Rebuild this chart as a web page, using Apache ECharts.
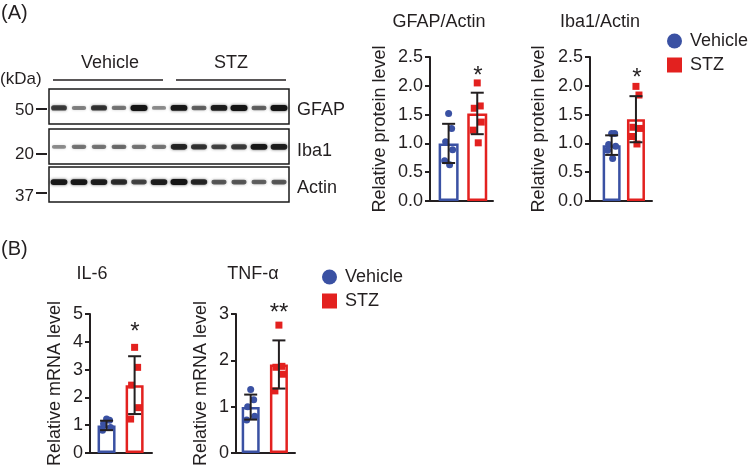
<!DOCTYPE html>
<html>
<head>
<meta charset="UTF-8">
<title>GFAP / Iba1 / IL-6 / TNF-α</title>
<script src="https://cdn.jsdelivr.net/npm/echarts@6/dist/echarts.min.js"></script>
<style>
  html, body { margin: 0; padding: 0; background: #fff; }
  #main { width: 749px; height: 468px; }
</style>
</head>
<body>
<div id="main"></div>
<script>
// blot lanes: 6 vehicle + 6 STZ, band darkness 0..1
var laneNames = ['V1', 'V2', 'V3', 'V4', 'V5', 'V6', 'S1', 'S2', 'S3', 'S4', 'S5', 'S6'];
var gfapBands = [0.7, 0.35, 0.75, 0.4, 1.0, 0.3, 0.95, 0.5, 0.9, 1.0, 0.5, 1.0];
var iba1Bands = [0.3, 0.4, 0.4, 0.45, 0.4, 0.4, 0.85, 0.75, 0.65, 0.7, 0.95, 0.9];
var actinBands = [0.95, 0.95, 0.9, 0.8, 0.65, 0.9, 1.0, 0.85, 0.55, 0.55, 0.5, 0.55];

// GFAP/Actin
var gfapVehicle = [1.52, 1.26, 1.03, 0.89, 0.70, 0.63];
var gfapStz = [2.05, 1.65, 1.61, 1.37, 1.23, 1.01];
var gfapMean = [1.00, 1.52];
var gfapSd = [0.34, 0.36];

// Iba1/Actin
var iba1Vehicle = [1.17, 1.17, 0.98, 0.95, 0.88, 0.74];
var iba1Stz = [1.99, 1.84, 1.28, 1.26, 1.12, 0.99];
var iba1Mean = [0.97, 1.42];
var iba1Sd = [0.17, 0.40];

// IL-6
var il6Vehicle = [1.22, 1.18, 1.05, 0.92, 0.82];
var il6Stz = [3.80, 3.08, 2.44, 1.63, 1.22];
var il6Mean = [0.99, 2.44];
var il6Sd = [0.17, 1.04];

// TNF-α
var tnfVehicle = [1.37, 1.15, 1.00, 0.79, 0.71];
var tnfStz = [2.76, 1.87, 1.85, 1.70, 1.34];
var tnfMean = [0.99, 1.91];
var tnfSd = [0.27, 0.52];

var FONT = '"Liberation Sans", Arial, Helvetica, sans-serif';
var INK = '#231f20';
var BLUE = '#3a51a3';
var RED = '#e3211f';
var jitter = [0, 3, -3, 4, -4, 1];

var grids = [], xAxes = [], yAxes = [], series = [];

function addBlot(bands, top, rowY) {
  var i = grids.length;
  grids.push({ left: 49, top: top, width: 240, height: 35, show: true,
    borderColor: '#1a1a1a', borderWidth: 1.5, backgroundColor: '#fff' });
  xAxes.push({ gridIndex: i, type: 'category', data: laneNames, show: false });
  yAxes.push({ gridIndex: i, type: 'value', min: 0, max: 1, show: false });
  series.push({
    type: 'custom', xAxisIndex: i, yAxisIndex: i, silent: true,
    data: bands.map(function (v, k) { return [k, v]; }),
    renderItem: function (params, api) {
      var p = api.coord([api.value(0), rowY]);
      var v = api.value(1);
      var w = 13 + 4 * v, h = 3 + 3 * v;
      return {
        type: 'rect',
        shape: { x: p[0] - w / 2, y: p[1] - h / 2, width: w, height: h, r: h / 2 },
        style: { fill: 'rgba(20,20,20,' + (0.2 + 0.8 * v) + ')',
          shadowBlur: 3, shadowColor: 'rgba(20,20,20,' + (0.15 + 0.6 * v) + ')' }
      };
    }
  });
}

function addBars(o) {
  var i = grids.length;
  grids.push({ left: o.left, top: o.top, width: o.width, height: o.height });
  xAxes.push({ gridIndex: i, type: 'value', min: o.xMin, max: o.xMax,
    axisLine: { onZero: false, lineStyle: { color: INK, width: 2 } },
    axisTick: { show: false }, axisLabel: { show: false }, splitLine: { show: false } });
  yAxes.push({ gridIndex: i, type: 'value', min: 0, max: o.max, interval: o.interval,
    name: o.name, nameLocation: 'middle', nameGap: o.nameGap, nameRotate: 90,
    nameTextStyle: { fontSize: 18, color: INK, fontFamily: FONT },
    axisLine: { show: true, onZero: false, lineStyle: { color: INK, width: 2 } },
    axisTick: { show: true, length: 5, lineStyle: { color: INK, width: 2 } },
    axisLabel: { fontSize: 18, color: INK, fontFamily: FONT, margin: 7,
      formatter: function (v) { return v.toFixed(o.dec); } },
    splitLine: { show: false } });
  series.push({
    type: 'bar', xAxisIndex: i, yAxisIndex: i, barWidth: o.barW, silent: true,
    itemStyle: { color: '#fff', borderWidth: 2.5 },
    data: [
      { value: [0, o.mean[0]], itemStyle: { borderColor: BLUE } },
      { value: [1, o.mean[1]], itemStyle: { borderColor: RED } }
    ]
  });
  series.push({
    type: 'scatter', name: 'Vehicle', xAxisIndex: i, yAxisIndex: i, symbol: 'circle', symbolSize: 7,
    itemStyle: { color: BLUE, opacity: 1 }, z: 3,
    data: o.veh.map(function (v, k) { return { value: [0, v], symbolOffset: [jitter[k], 0] }; })
  });
  series.push({
    type: 'scatter', name: 'STZ', xAxisIndex: i, yAxisIndex: i, symbol: 'rect', symbolSize: 7,
    itemStyle: { color: RED, opacity: 1 }, z: 3,
    data: o.stz.map(function (v, k) { return { value: [1, v], symbolOffset: [jitter[k], 0] }; })
  });
  series.push({
    type: 'custom', xAxisIndex: i, yAxisIndex: i, z: 5, silent: true,
    data: [[0, o.mean[0], o.sd[0]], [1, o.mean[1], o.sd[1]]],
    renderItem: function (params, api) {
      var x = api.value(0), m = api.value(1), s = api.value(2);
      var hi = api.coord([x, m + s]), lo = api.coord([x, m - s]);
      var c = 6.5, st = { stroke: INK, lineWidth: 2 };
      return { type: 'group', children: [
        { type: 'line', shape: { x1: hi[0], y1: hi[1], x2: lo[0], y2: lo[1] }, style: st },
        { type: 'line', shape: { x1: hi[0] - c, y1: hi[1], x2: hi[0] + c, y2: hi[1] }, style: st },
        { type: 'line', shape: { x1: lo[0] - c, y1: lo[1], x2: lo[0] + c, y2: lo[1] }, style: st }
      ] };
    }
  });
}

addBlot(gfapBands, 89, 0.46);
addBlot(iba1Bands, 129, 0.49);
addBlot(actinBands, 167, 0.57);

addBars({ left: 430, top: 57, width: 63, height: 144, xMin: -0.65, xMax: 1.55, barW: 20,
  max: 2.5, interval: 0.5, dec: 1, name: 'Relative protein level', nameGap: 41,
  veh: gfapVehicle, stz: gfapStz, mean: gfapMean, sd: gfapSd });
addBars({ left: 590, top: 57, width: 62, height: 144, xMin: -0.89, xMax: 1.66, barW: 18,
  max: 2.5, interval: 0.5, dec: 1, name: 'Relative protein level', nameGap: 42,
  veh: iba1Vehicle, stz: iba1Stz, mean: iba1Mean, sd: iba1Sd });
addBars({ left: 90, top: 314, width: 62, height: 145, xMin: -0.59, xMax: 1.62, barW: 18,
  max: 5, interval: 1, dec: 0, name: 'Relative mRNA level', nameGap: 26,
  veh: il6Vehicle, stz: il6Stz, mean: il6Mean, sd: il6Sd });
addBars({ left: 236, top: 314, width: 59, height: 144, xMin: -0.52, xMax: 1.57, barW: 18,
  max: 3, interval: 1, dec: 0, name: 'Relative mRNA level', nameGap: 26,
  veh: tnfVehicle, stz: tnfStz, mean: tnfMean, sd: tnfSd });

function txt(x, y, s, size, align) {
  return { type: 'text', x: x, y: y, silent: true,
    style: { text: s, fill: INK, font: size + 'px ' + FONT, align: align || 'left', verticalAlign: 'middle' } };
}
function hline(x1, x2, y, w) {
  return { type: 'line', silent: true, shape: { x1: x1, y1: y, x2: x2, y2: y },
    style: { stroke: INK, lineWidth: w || 1.5 } };
}

var graphics = [
  txt(1, 13, '(A)', 20),
  txt(1, 249, '(B)', 20),
  txt(110, 63, 'Vehicle', 18, 'center'),
  txt(231, 63, 'STZ', 18, 'center'),
  hline(53, 163, 80), hline(176, 286, 80),
  txt(0, 79, '(kDa)', 17),
  txt(34, 110, '50', 17, 'right'), hline(36, 47, 109, 2),
  txt(34, 154, '20', 17, 'right'), hline(36, 47, 154, 2),
  txt(34, 196, '37', 17, 'right'), hline(36, 47, 193, 2),
  txt(297, 110, 'GFAP', 18), txt(297, 151, 'Iba1', 18), txt(297, 188, 'Actin', 18),
  txt(439, 22, 'GFAP/Actin', 18, 'center'),
  txt(600, 22, 'Iba1/Actin', 18, 'center'),
  txt(92, 274, 'IL-6', 18, 'center'),
  txt(253, 274, 'TNF-α', 18, 'center'),
  txt(478, 76, '*', 24, 'center'),
  txt(637, 78, '*', 24, 'center'),
  txt(135, 332, '*', 24, 'center'),
  txt(279, 313, '**', 24, 'center')
];

var legendBase = {
  orient: 'vertical', padding: 0, itemWidth: 15, itemHeight: 15, itemGap: 6, selectedMode: false,
  textStyle: { fontSize: 18, color: INK, fontFamily: FONT, padding: [0, 0, 0, 3] },
  data: [{ name: 'Vehicle', icon: 'circle' }, { name: 'STZ', icon: 'rect' }]
};

var chart = echarts.init(document.getElementById('main'));
chart.setOption({
  backgroundColor: '#fff',
  animation: false,
  grid: grids,
  xAxis: xAxes,
  yAxis: yAxes,
  legend: [
    Object.assign({}, legendBase, { left: 667, top: 32 }),
    Object.assign({}, legendBase, { left: 322, top: 268 })
  ],
  graphic: graphics,
  series: series
});
</script>
</body>
</html>
